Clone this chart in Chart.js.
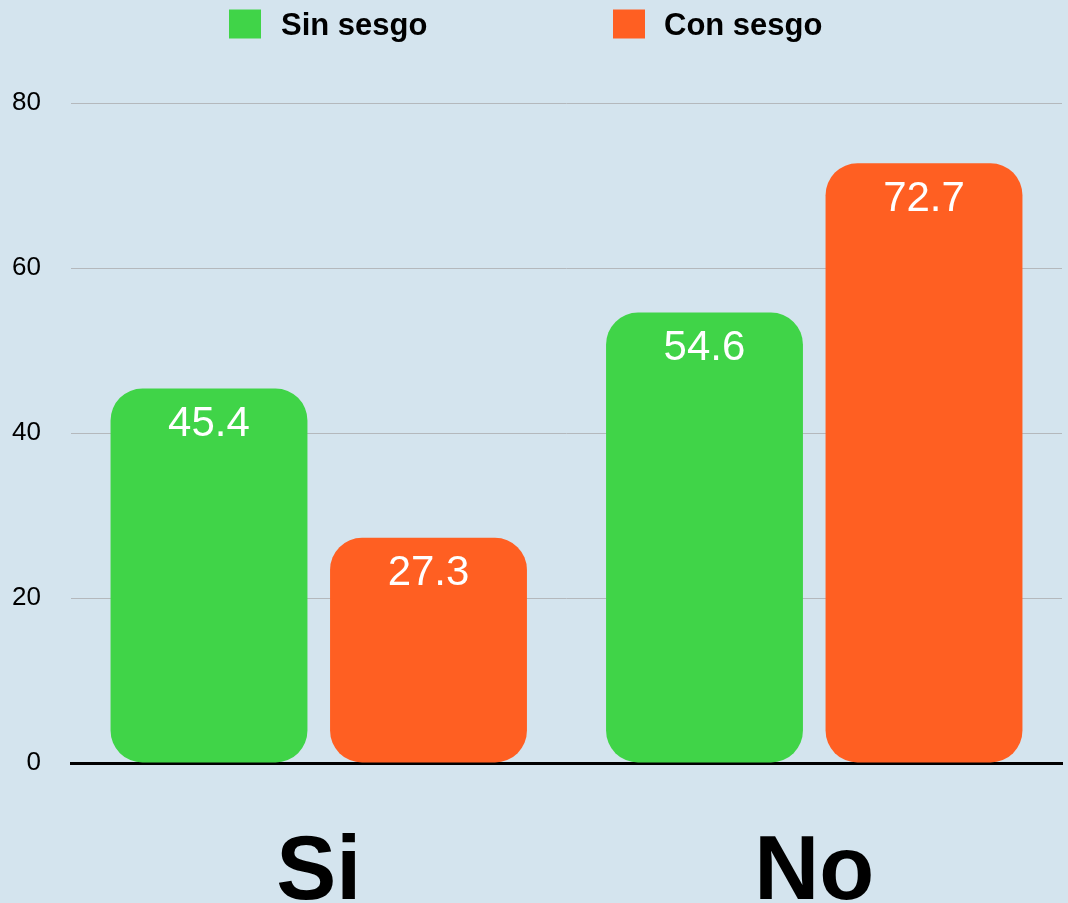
<!DOCTYPE html>
<html>
<head>
<meta charset="utf-8">
<script src="https://cdn.jsdelivr.net/npm/chart.js@4/dist/chart.umd.min.js"></script>
<style>
  html, body { margin: 0; padding: 0; background: #d4e4ee; overflow: hidden; }
  canvas { display: block; }
</style>
</head>
<body>
<canvas id="c" width="1068" height="903"></canvas>
<script>
const categories = ["Si", "No"];
const seriesNames = ["Sin sesgo", "Con sesgo"];
const sinSesgo = [45.4, 54.6];
const conSesgo = [27.3, 72.7];
const yTicks = [0, 20, 40, 60, 80];

const GREEN = "#40d448";
const ORANGE = "#ff5f22";
const FONT = "'Liberation Sans', Arial, Helvetica, sans-serif";

const bgPlugin = {
  id: "bg",
  beforeDraw(chart) {
    const ctx = chart.ctx;
    ctx.save();
    ctx.fillStyle = "#d4e4ee";
    ctx.fillRect(0, 0, chart.width, chart.height);
    ctx.restore();
  }
};

// Legend drawn at top, using dataset names and colours
const topLegend = {
  id: "topLegend",
  afterDraw(chart) {
    const ctx = chart.ctx;
    const items = [
      { boxX: 229, textX: 281 },
      { boxX: 613, textX: 664 }
    ];
    ctx.save();
    ctx.font = "bold 31px " + FONT;
    ctx.textBaseline = "middle";
    ctx.textAlign = "left";
    chart.data.datasets.forEach((ds, i) => {
      const it = items[i];
      ctx.fillStyle = ds.backgroundColor;
      ctx.fillRect(it.boxX, 9.5, 32, 29);
      ctx.fillStyle = "#000";
      ctx.fillText(ds.label, it.textX, 26);
    });
    ctx.restore();
  }
};

const valueLabels = {
  id: "valueLabels",
  afterDatasetsDraw(chart) {
    const ctx = chart.ctx;
    ctx.save();
    ctx.fillStyle = "#ffffff";
    ctx.font = "42px " + FONT;
    ctx.textAlign = "center";
    ctx.textBaseline = "middle";
    chart.data.datasets.forEach((ds, i) => {
      const meta = chart.getDatasetMeta(i);
      meta.data.forEach((bar, j) => {
        ctx.fillText(ds.data[j].toFixed(1), bar.x, bar.y + 36);
      });
    });
    ctx.restore();
  }
};

new Chart(document.getElementById("c"), {
  type: "bar",
  data: {
    labels: categories,
    datasets: [
      { label: seriesNames[0], data: sinSesgo, backgroundColor: GREEN },
      { label: seriesNames[1], data: conSesgo, backgroundColor: ORANGE }
    ]
  },
  options: {
    responsive: false,
    animation: false,
    devicePixelRatio: 1,
    layout: { padding: { left: 0, right: 6, top: 103, bottom: 0 } },
    datasets: {
      bar: {
        categoryPercentage: 0.886,
        barPercentage: 0.897,
        borderRadius: 32,
        borderSkipped: false
      }
    },
    plugins: {
      legend: { display: false },
      tooltip: { enabled: false }
    },
    scales: {
      x: {
        afterFit(scale) { scale.height = 140; },
        grid: { display: false },
        border: { display: true, color: "#000", width: 3 },
        ticks: {
          color: "#000",
          padding: 49,
          font: { family: FONT, size: 90, weight: "bold", lineHeight: 1.2 }
        }
      },
      y: {
        min: 0,
        max: 80,
        afterBuildTicks(axis) { axis.ticks = yTicks.map(v => ({ value: v })); },
        afterFit(scale) { scale.width = 71; },
        border: { display: false },
        grid: {
          drawTicks: false,
          color: ctx => ctx.tick && ctx.tick.value === 0 ? "rgba(0,0,0,0)" : "#b4b8bc",
          lineWidth: 1
        },
        ticks: {
          color: "#000",
          padding: 30,
          font: { family: FONT, size: 26 }
        }
      }
    }
  },
  plugins: [bgPlugin, valueLabels, topLegend]
});
</script>
</body>
</html>
